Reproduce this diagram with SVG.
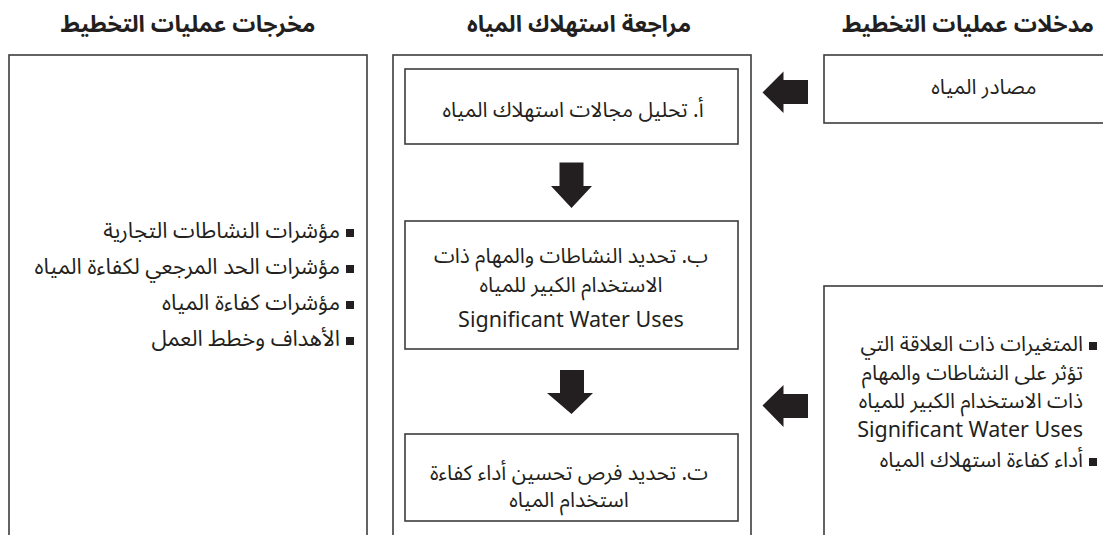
<svg xmlns="http://www.w3.org/2000/svg" width="1103" height="535" viewBox="0 0 1103 535">
  <style>
    .box { fill: #ffffff; stroke: #3c3c3c; stroke-width: 1.6; }
    .arrow { fill: #231f20; }
    .hdr { font-family: "Noto Sans Arabic", "DejaVu Sans", "Noto Sans", sans-serif; font-size: 23px; font-weight: bold; fill: #231f20; }
    .txt { font-family: "Noto Sans Arabic", "DejaVu Sans", "Noto Sans", sans-serif; font-size: 21px; fill: #231f20; }
    .lst { font-family: "Noto Sans Arabic", "DejaVu Sans", "Noto Sans", sans-serif; font-size: 22px; fill: #231f20; }
    .en { font-family: "Noto Sans", "Open Sans", sans-serif; font-size: 21.5px; fill: #231f20; }
    .bul { fill: #231f20; }
  </style>
  <rect width="1103" height="535" fill="#ffffff"/>

  <!-- column headings -->
  <g id="headings">
    <text class="hdr" x="188" y="32" text-anchor="middle" direction="rtl">مخرجات عمليات التخطيط</text>
    <text class="hdr" x="579" y="32" text-anchor="middle" direction="rtl">مراجعة استهلاك المياه</text>
    <text class="hdr" x="968" y="32" text-anchor="middle" direction="rtl">مدخلات عمليات التخطيط</text>
  </g>

  <!-- outputs column -->
  <g id="outputs">
    <rect class="box" x="9" y="55" width="358" height="520"/>
    <rect class="bul" x="346" y="229" width="8" height="8"/>
    <text class="lst" x="340" y="238" direction="rtl" text-anchor="start">مؤشرات النشاطات التجارية</text>
    <rect class="bul" x="346" y="265" width="8" height="8"/>
    <text class="lst" x="340" y="274" direction="rtl" text-anchor="start">مؤشرات الحد المرجعي لكفاءة المياه</text>
    <rect class="bul" x="346" y="301" width="8" height="8"/>
    <text class="lst" x="340" y="310" direction="rtl" text-anchor="start" textLength="178" lengthAdjust="spacingAndGlyphs">مؤشرات كفاءة المياه</text>
    <rect class="bul" x="346" y="337" width="8" height="8"/>
    <text class="lst" x="340" y="346" direction="rtl" text-anchor="start">الأهداف وخطط العمل</text>
  </g>

  <!-- water consumption review column -->
  <g id="review">
    <rect class="box" x="393" y="55" width="358" height="520"/>
  </g>
  <g id="step-a">
    <rect class="box" x="405" y="69" width="333" height="75"/>
    <text class="txt" x="573" y="117" text-anchor="middle" direction="rtl">أ. تحليل مجالات استهلاك المياه</text>
  </g>
  <g id="step-b">
    <rect class="box" x="405" y="221" width="333" height="128"/>
    <text class="txt" x="571" y="263" text-anchor="middle" direction="rtl">ب. تحديد النشاطات والمهام ذات</text>
    <text class="txt" x="571" y="292" text-anchor="middle" direction="rtl">الاستخدام الكبير للمياه</text>
    <text class="en" x="571" y="327" text-anchor="middle">Significant Water Uses</text>
  </g>
  <g id="step-c">
    <rect class="box" x="405" y="434" width="333" height="87"/>
    <text class="txt" x="569" y="480" text-anchor="middle" direction="rtl">ت. تحديد فرص تحسين أداء كفاءة</text>
    <text class="txt" x="569" y="507" text-anchor="middle" direction="rtl">استخدام المياه</text>
  </g>

  <!-- inputs column -->
  <g id="input-sources">
    <rect class="box" x="824" y="55" width="300" height="68"/>
    <text class="txt" x="984" y="94" text-anchor="middle" direction="rtl">مصادر المياه</text>
  </g>
  <g id="input-variables">
    <rect class="box" x="824" y="286" width="300" height="300"/>
    <rect class="bul" x="1089" y="342" width="8" height="8"/>
    <text class="txt" x="1083" y="351" direction="rtl" text-anchor="start">المتغيرات ذات العلاقة التي</text>
    <text class="txt" x="1083" y="380" direction="rtl" text-anchor="start">تؤثر على النشاطات والمهام</text>
    <text class="txt" x="1083" y="408" direction="rtl" text-anchor="start">ذات الاستخدام الكبير للمياه</text>
    <text class="en" x="1083" y="437" text-anchor="end">Significant Water Uses</text>
    <rect class="bul" x="1089" y="458" width="8" height="8"/>
    <text class="txt" x="1083" y="467" direction="rtl" text-anchor="start">أداء كفاءة استهلاك المياه</text>
  </g>

  <!-- block arrows -->
  <g id="connectors">
    <polygon class="arrow" points="559.5,162.5 583.5,162.5 583.5,186 592,186 571.5,208 551,186 559.5,186"/>
    <polygon class="arrow" points="560,370 584,370 584,393 593,393 571.5,414 547,393 560,393"/>
    <polygon class="arrow" points="762.5,92.5 783.5,71.5 783.5,80 808,80 808,104 783.5,104 783.5,113"/>
    <polygon class="arrow" points="762.5,405.5 783.5,385 783.5,394 808,394 808,418 783.5,418 783.5,427"/>
  </g>
</svg>
